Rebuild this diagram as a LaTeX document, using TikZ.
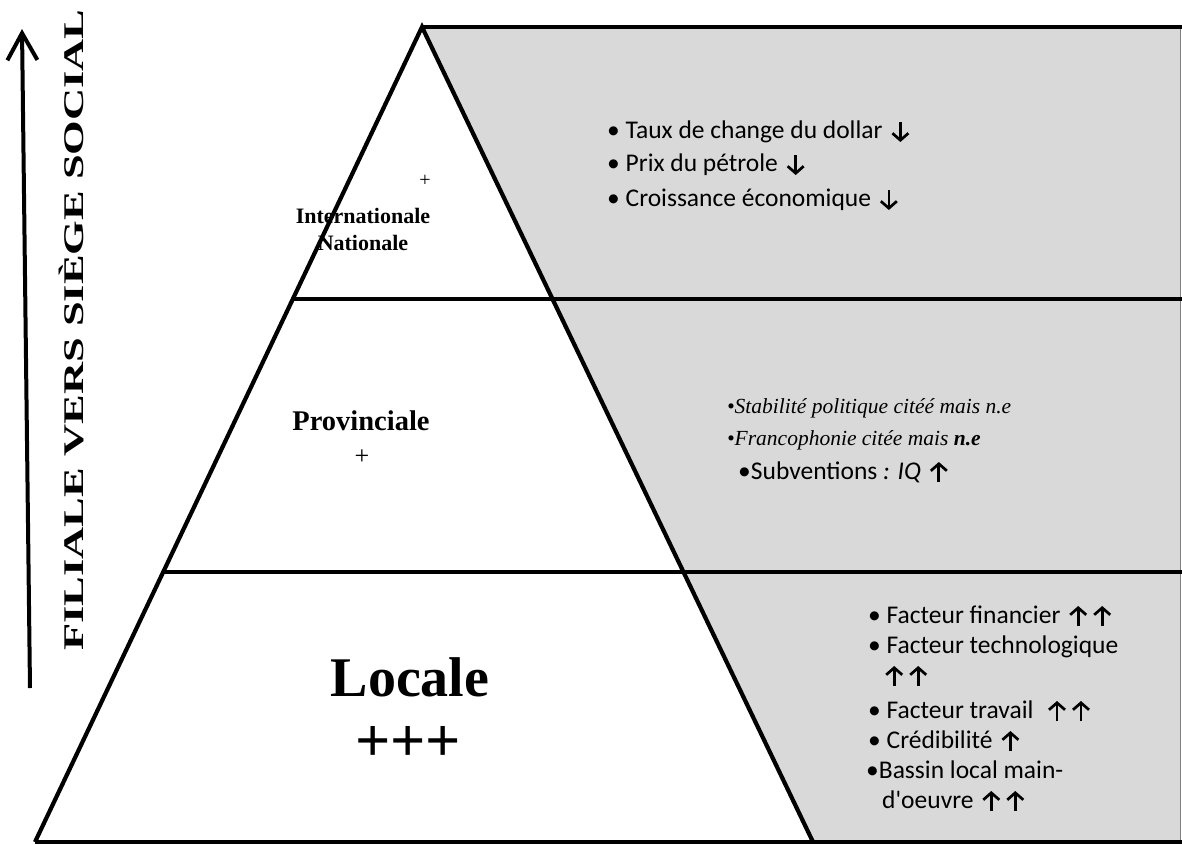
\documentclass[tikz,border=0pt]{standalone}
\usepackage{fontspec}
\setmainfont{Liberation Serif}
\newfontfamily\calib{Carlito}
\usetikzlibrary{arrows.meta}
\definecolor{panelgrey}{RGB}{217,217,217}
% bold inline trend arrows
\tikzset{trendarrow/.style={line width=2.7pt, -{Straight Barb[length=7pt,width=16pt,line width=2.7pt]}}}
\newcommand{\uparr}{\tikz[baseline=0pt,x=1pt,y=1pt]{\useasboundingbox (-12,-4) rectangle (12,17); \draw[trendarrow] (0,-3) -- (0,17);}}
\newcommand{\dnarr}{\tikz[baseline=0pt,x=1pt,y=1pt]{\useasboundingbox (-12,-4) rectangle (12,17); \draw[trendarrow] (0,16) -- (0,-4);}}

\begin{document}
\begin{tikzpicture}[x=1pt,y=-1pt,
  edge/.style={line width=4.2pt},
  itemtext/.style={anchor=base west, inner sep=0pt, font=\calib\fontsize{25.5}{30}\selectfont},
  seriftext/.style={anchor=base west, inner sep=0pt, font=\fontsize{21.5}{26}\selectfont\itshape},
  levellabel/.style={anchor=base, inner sep=0pt, font=\bfseries}
]
\useasboundingbox (0,0) rectangle (1182,844);

% pyramid corners
\coordinate (apex) at (422,27);
\coordinate (bl) at (35,842);
\coordinate (br) at (813,842);
\coordinate (tr) at (1180,27);
\coordinate (rb) at (1180,842);

% grey side panel
\fill[panelgrey] (apex) -- (tr) -- (rb) -- (br) -- cycle;
\draw[gray, line width=1pt] (tr) -- (rb);

% outline and level separators
\draw[edge, line join=miter] (bl) -- (apex) -- (br);
\draw[edge] (apex) -- (1182,27);
\draw[edge] (293,299) -- (1182,299);
\draw[edge] (163,572) -- (1182,572);
\draw[edge] (bl) -- (1182,842);

% direction arrow and its caption
\coordinate (arrowfoot) at (30,688);
\coordinate (arrowtip) at (22,29);
\draw[line width=4pt, -{Straight Barb[length=27pt,width=30pt,line width=4pt]}] (arrowfoot) -- (arrowtip);
\node[rotate=90, inner sep=0pt] (axis) at (71,330)
  {\scalebox{1.56}[1]{\fontsize{28.5}{28.5}\selectfont\bfseries FILIALE VERS SIÈGE SOCIAL}};

% level names
\node[anchor=base, inner sep=0pt, font=\fontsize{20}{20}\selectfont] (intplus) at (425,186) {+};
\node[levellabel, font=\bfseries\fontsize{22}{22}\selectfont] (intl) at (363,223) {Internationale};
\node[levellabel, font=\bfseries\fontsize{22}{22}\selectfont] (natl) at (363,250) {Nationale};
\node[levellabel, font=\bfseries\fontsize{28.5}{28.5}\selectfont] (prov) at (361,430) {Provinciale};
\node[anchor=base, inner sep=0pt, font=\fontsize{26}{26}\selectfont] (provplus) at (362,464) {+};
\node[levellabel, font=\bfseries\fontsize{56}{56}\selectfont] (loc) at (410,696) {Locale};
\node[anchor=base, inner sep=0pt, font=\bfseries\fontsize{62}{62}\selectfont] (locplus) at (408,761) {+++};

% national / international factors
\node[itemtext] (t1) at (607,138) {• Taux de change du dollar \dnarr};
\node[itemtext] (t2) at (607,171) {• Prix du pétrole \dnarr};
\node[itemtext] (t3) at (607,206) {• Croissance économique \dnarr};

% provincial factors
\node[seriftext] (p1) at (727,413) {•Stabilité politique citéé mais n.e};
\node[seriftext] (p2) at (727,445) {•Francophonie citée mais \textbf{n.e}};
\node[itemtext] (p3) at (738,479) {•Subventions \textit{: IQ} \uparr};

% local factors
\node[itemtext] (l1) at (868,623) {• Facteur financier \uparr\uparr};
\node[itemtext] (l2) at (868,653) {• Facteur technologique};
\node[itemtext] (l2b) at (882,683) {\uparr\uparr};
\node[itemtext] (l3) at (868,718) {• Facteur travail \ \uparr\uparr};
\node[itemtext] (l4) at (868,748) {• Crédibilité \uparr};
\node[itemtext] (l5) at (866,778) {•Bassin local main-};
\node[itemtext] (l5b) at (882,808) {d'oeuvre \uparr\uparr};
\end{tikzpicture}
\end{document}
